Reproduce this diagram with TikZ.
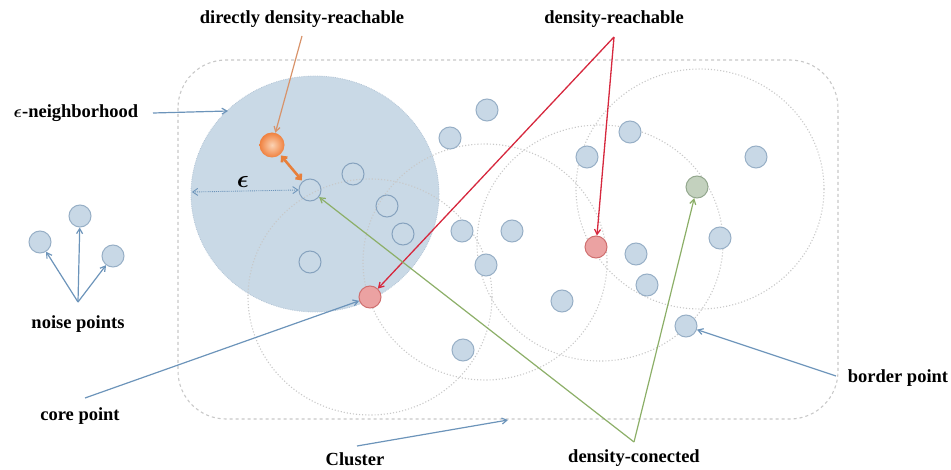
\documentclass[tikz,border=0pt]{standalone}
\usepackage{amsmath,bm}
\usepackage{fontspec}
\setmainfont{Liberation Serif}
\usetikzlibrary{arrows.meta,shadings}

\definecolor{nbhdfill}{HTML}{C9D9E6}
\definecolor{ptfill}{HTML}{C8D8E6}
\definecolor{ptline}{HTML}{97AFC6}
\definecolor{hollow}{HTML}{86A2BE}
\definecolor{redfill}{HTML}{EBA2A2}
\definecolor{redline}{HTML}{CF6F6F}
\definecolor{grnfill}{HTML}{C3D1BE}
\definecolor{grnline}{HTML}{93A78E}
\definecolor{bluearrow}{HTML}{6C94BA}
\definecolor{redarrow}{HTML}{D6283E}
\definecolor{grnarrow}{HTML}{8CAF68}
\definecolor{orgarrow}{HTML}{E87F3A}
\definecolor{orgline}{HTML}{D8936A}
\definecolor{orgin}{HTML}{FBD3B4}
\definecolor{orgout}{HTML}{F0813F}
\definecolor{dotgray}{HTML}{C8C8C8}

\tikzset{
  pt/.style={circle, minimum size=22pt, inner sep=0pt, fill=ptfill, draw=ptline, line width=1pt},
  hollowpt/.style={circle, minimum size=22pt, inner sep=0pt, draw=hollow, line width=1pt},
  redpt/.style={circle, minimum size=22pt, inner sep=0pt, fill=redfill, draw=redline, line width=1pt},
  grnpt/.style={circle, minimum size=22pt, inner sep=0pt, fill=grnfill, draw=grnline, line width=1pt},
  orgpt/.style={circle, minimum size=25pt, inner sep=0pt, draw=none,
    shading=radial, inner color=orgin, outer color=orgout},
  lbl/.style={font=\fontsize{18.5}{20}\selectfont\bfseries, inner sep=1pt},
  reach/.style={dotgray, dotted, line width=1.1pt},
  tipb/.style={-{Straight Barb[length=5pt,width=6pt]}},
  bluelink/.style={bluearrow, line width=1.2pt, tipb},
  redlink/.style={redarrow, line width=1.3pt, tipb},
  grnlink/.style={grnarrow, line width=1.2pt, tipb},
}

\begin{document}
\begin{tikzpicture}[x=1pt,y=-1pt]
\useasboundingbox (0,0) rectangle (951,470);

% epsilon-neighbourhood of the core point
\fill[nbhdfill] (315,194) ellipse[x radius=124, y radius=118];
\draw[ptline!70, densely dotted, line width=0.8pt] (315,194) ellipse[x radius=124, y radius=118];

% neighbourhoods of the other core points
\draw[reach] (370,297) ellipse[x radius=122, y radius=118];
\draw[reach] (485,262) ellipse[x radius=122, y radius=118];
\draw[reach] (600,243) ellipse[x radius=123, y radius=118];
\draw[reach] (700,189) ellipse[x radius=124, y radius=120];

% cluster outline
\draw[dotgray, dashed, line width=1.1pt, rounded corners=48pt] (178,60) rectangle (838,419);

% points inside the neighbourhood
\node[hollowpt] (core) at (310,190) {};
\node[hollowpt] (h1) at (353,174) {};
\node[hollowpt] (h2) at (387,206) {};
\node[hollowpt] (h3) at (403,234) {};
\node[hollowpt] (h4) at (310,262) {};

% cluster points
\node[pt] (p1)  at (450,138) {};
\node[pt] (p2)  at (487,110) {};
\node[pt] (p3)  at (462,231) {};
\node[pt] (p4)  at (512,231) {};
\node[pt] (p5)  at (486,265) {};
\node[pt] (p6)  at (463,350) {};
\node[pt] (p7)  at (562,301) {};
\node[pt] (p8)  at (587,157) {};
\node[pt] (p9)  at (630,132) {};
\node[pt] (p10) at (636,254) {};
\node[pt] (p11) at (647,285) {};
\node[pt] (p12) at (720,238) {};
\node[pt] (p13) at (756,157) {};
\node[pt] (border) at (686,326) {};

\node[redpt] (redcore) at (370,297) {};
\node[redpt] (redpt) at (596,247) {};
\node[grnpt] (grn) at (697,187) {};
\node[orgpt] (org) at (272,145) {};

% noise points
\node[pt] (n1) at (40,242) {};
\node[pt] (n2) at (80,216) {};
\node[pt] (n3) at (113,256) {};

% labels
\node[lbl] (ldir)   at (302,19)  {directly density-reachable};
\node[lbl] (lreach) at (614,19)  {density-reachable};
\node[lbl] (lneigh) at (76,113)  {$\bm{\epsilon}$-neighborhood};
\node[lbl] (lnoise) at (78,324)  {noise points};
\node[lbl] (lcore)  at (80,416)  {core point};
\node[lbl] (lclus)  at (355,459) {Cluster};
\node[lbl] (lconn)  at (634,458) {density-conected};
\node[lbl] (lbord)  at (898,378) {border point};
\node[lbl, font=\fontsize{23}{24}\selectfont] (leps) at (243,182) {$\bm{\epsilon}$};

% anchor points of the connectors
\coordinate (dirstart)   at (302,36);
\coordinate (reachstart) at (614,37);
\coordinate (connstart)  at (634,442);
\coordinate (neighstart) at (153,113);
\coordinate (neighend)   at (228,111);
\coordinate (noisestart) at (78,302);
\coordinate (corestart)  at (85,398);
\coordinate (clusstart)  at (357,446);
\coordinate (bordstart)  at (836,376);
\coordinate (epsleft)    at (192,192);
\coordinate (clusend)    at (508,420);

% connectors
\draw[orgline, line width=1.2pt, tipb] (dirstart) -- (org);
\draw[orgarrow, line width=2.6pt, {Straight Barb[length=4pt,width=7pt]}-{Straight Barb[length=4pt,width=7pt]}, shorten <=1pt, shorten >=1pt] (org) -- (core);
\draw[bluearrow, line width=0.9pt, densely dotted, {Straight Barb[length=5pt,width=7pt]}-{Straight Barb[length=5pt,width=7pt]}] (epsleft) -- (core.west);
\draw[bluelink] (neighstart) -- (neighend);
\draw[bluelink] (noisestart) -- (n1);
\draw[bluelink] (noisestart) -- (n2);
\draw[bluelink] (noisestart) -- (n3);
\draw[bluelink] (corestart) -- (redcore);
\draw[bluelink] (clusstart) -- (clusend);
\draw[bluelink] (bordstart) -- (border);
\draw[redlink] (reachstart) -- (redcore);
\draw[redlink] (reachstart) -- (redpt);
\draw[grnlink] (connstart) -- (core);
\draw[grnlink] (connstart) -- (grn);
\end{tikzpicture}
\end{document}
